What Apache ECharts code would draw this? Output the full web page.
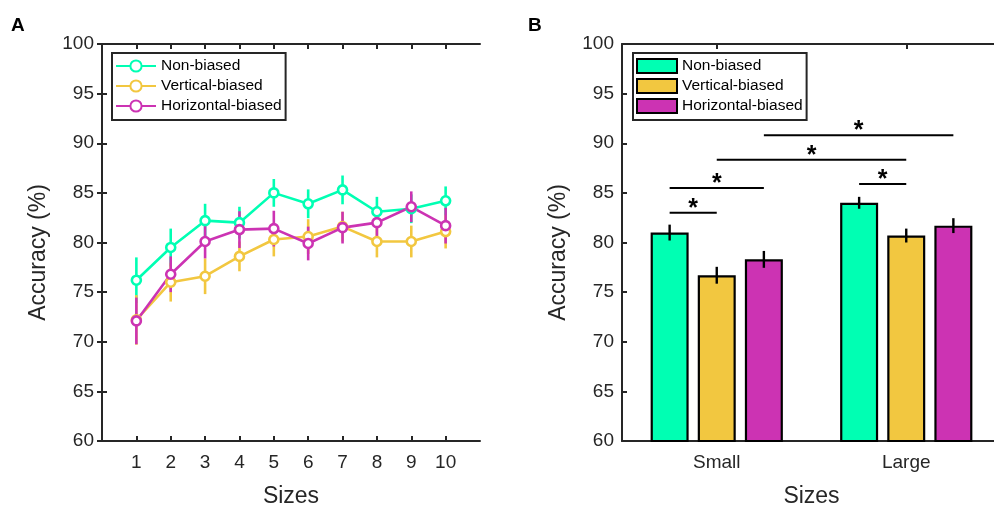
<!DOCTYPE html>
<html>
<head>
<meta charset="utf-8">
<script src="https://cdn.jsdelivr.net/npm/echarts@6/dist/echarts.min.js"></script>
<style>
html,body{margin:0;padding:0;background:#fff;}
#chart{width:994px;height:505px;}
</style>
</head>
<body>
<div id="chart"></div>
<script>
// ---- Panel A data ----
const sizes = [1, 2, 3, 4, 5, 6, 7, 8, 9, 10];
const nonBiased = [76.2, 79.5, 82.2, 82.0, 85.0, 83.9, 85.3, 83.1, 83.4, 84.2];
const nonBiasedErr = [2.3, 1.9, 1.7, 1.6, 1.4, 1.45, 1.45, 1.5, 1.45, 1.45];
const verticalBiased = [72.2, 76.0, 76.6, 78.6, 80.3, 80.6, 81.6, 80.1, 80.1, 81.1];
const verticalErr = [2.5, 1.95, 1.8, 1.5, 1.7, 1.75, 1.5, 1.6, 1.6, 1.7];
const horizontalBiased = [72.1, 76.8, 80.1, 81.3, 81.4, 79.9, 81.5, 82.0, 83.6, 81.7];
const horizontalErr = [2.35, 1.8, 1.7, 1.85, 1.8, 1.7, 1.6, 1.65, 1.55, 1.8];

// ---- Panel B data ----
const sizeCats = ['Small', 'Large'];
const barNon = [81.0, 84.0];
const barNonErr = [0.8, 0.6];
const barVert = [76.7, 80.7];
const barVertErr = [0.85, 0.7];
const barHor = [78.3, 81.7];
const barHorErr = [0.85, 0.75];
// [category A, bar A, category B, bar B, line height]
const comparisons = [
  [0, 0, 0, 1, 83.0],
  [0, 0, 0, 2, 85.5],
  [0, 1, 1, 1, 88.35],
  [0, 2, 1, 2, 90.8],
  [1, 0, 1, 1, 85.9]
];

const seriesNames = ['Non-biased', 'Vertical-biased', 'Horizontal-biased'];

const GREEN = '#00FFB3', YELLOW = '#F2C740', MAGENTA = '#CC33B3';
const AX = '#262626';
const FONT = 'Liberation Sans, Arial, sans-serif';
const BAR_W = 38, BAR_GAP = 0.24;
const BAR_STEP = BAR_W * (1 + BAR_GAP);

const chart = echarts.init(document.getElementById('chart'));

function lineErr(vals, errs, color, name) {
  return {
    type: 'custom', xAxisIndex: 0, yAxisIndex: 0, silent: true,
    name: name + ' err',
    data: sizes.map((s, i) => [s, vals[i], errs[i]]),
    encode: { x: 0, y: 1 },
    renderItem: function (params, api) {
      const x = api.value(0), v = api.value(1), e = api.value(2);
      const p1 = api.coord([x, v - e]), p2 = api.coord([x, v + e]);
      return { type: 'line', shape: { x1: p1[0], y1: p1[1], x2: p2[0], y2: p2[1] },
        style: { stroke: color, lineWidth: 2.6 } };
    }
  };
}
function lineSeries(vals, color, name) {
  return {
    type: 'line', name: name, xAxisIndex: 0, yAxisIndex: 0,
    data: sizes.map((s, i) => [s, vals[i]]),
    symbol: 'circle', symbolSize: 9,
    itemStyle: { color: '#fff', borderColor: color, borderWidth: 2.6 },
    lineStyle: { color: color, width: 2.6 },
    color: color,
    animation: false
  };
}
function barErr(vals, errs, idx) {
  return {
    type: 'custom', xAxisIndex: 2, yAxisIndex: 2, silent: true, z: 5,
    data: sizeCats.map((c, i) => [i, vals[i], errs[i]]),
    encode: { x: 0, y: 1 },
    renderItem: function (params, api) {
      const x = api.value(0), v = api.value(1), e = api.value(2);
      const p1 = api.coord([x, v - e]), p2 = api.coord([x, v + e]);
      const off = (idx - 1) * BAR_STEP;
      return { type: 'line', shape: { x1: p1[0] + off, y1: p1[1], x2: p2[0] + off, y2: p2[1] },
        style: { stroke: '#000', lineWidth: 2.4 } };
    }
  };
}
function barSeries(vals, color, name) {
  return {
    type: 'bar', name: name + ' (B)', xAxisIndex: 2, yAxisIndex: 2,
    data: vals, barWidth: BAR_W, barGap: (BAR_GAP * 100) + '%',
    itemStyle: { color: color, borderColor: '#000', borderWidth: 2.2 },
    animation: false
  };
}

const axisCommon = {
  axisLine: { show: true, lineStyle: { color: AX, width: 2 } },
  axisTick: { show: true, inside: true, length: 5, lineStyle: { color: AX, width: 2 } },
  splitLine: { show: false }
};
const labelStyle = { color: AX, fontSize: 19, fontFamily: FONT };
const nameStyle = { color: AX, fontSize: 23, fontFamily: FONT };

function yAxisMain(grid) {
  return Object.assign({}, axisCommon, {
    type: 'value', gridIndex: grid, min: 60, max: 100, interval: 5, position: 'left',
    name: 'Accuracy (%)', nameLocation: 'middle', nameGap: 52,
    nameTextStyle: Object.assign({}, nameStyle, { padding: [0, 20, 0, 0] }),
    axisLabel: Object.assign({}, labelStyle, { margin: 8 })
  });
}
function yAxisRight(grid) {
  return Object.assign({}, axisCommon, {
    type: 'value', gridIndex: grid, min: 60, max: 100, interval: 5, position: 'right',
    axisLabel: { show: false }
  });
}

const option = {
  backgroundColor: '#fff',
  animation: false,
  title: [
    { text: 'A', left: 11, top: 16, padding: 0, textStyle: { fontSize: 19, fontWeight: 'bold', color: '#000', fontFamily: FONT } },
    { text: 'B', left: 528, top: 16, padding: 0, textStyle: { fontSize: 19, fontWeight: 'bold', color: '#000', fontFamily: FONT } }
  ],
  grid: [
    { left: 102, top: 44, width: 378, height: 397, containLabel: false, outerBoundsMode: 'none' },
    { left: 622, top: 44, width: 379, height: 397, containLabel: false, outerBoundsMode: 'none' }
  ],
  legend: [
    {
      data: seriesNames, left: 112, top: 53, orient: 'vertical',
      itemWidth: 40, itemHeight: 14, itemGap: 4,
      padding: [5, 4, 6, 3], borderColor: AX, borderWidth: 2, backgroundColor: '#fff',
      textStyle: { color: '#000', fontSize: 15.5, fontFamily: FONT },
      selectedMode: false
    },
    {
      data: seriesNames.map(n => n + ' (B)'), left: 633, top: 53, orient: 'vertical',
      itemWidth: 40, itemHeight: 14, itemGap: 4, icon: 'rect',
      padding: [5, 4, 6, 3], borderColor: AX, borderWidth: 2, backgroundColor: '#fff',
      formatter: function (n) { return n.replace(' (B)', ''); },
      textStyle: { color: '#000', fontSize: 15.5, fontFamily: FONT },
      itemStyle: { borderColor: '#000', borderWidth: 2 },
      selectedMode: false
    }
  ],
  xAxis: [
    Object.assign({}, axisCommon, {
      type: 'value', gridIndex: 0, min: 0, max: 11, interval: 1, position: 'bottom',
      name: 'Sizes', nameLocation: 'middle', nameGap: 44, nameTextStyle: nameStyle,
      axisTick: Object.assign({}, axisCommon.axisTick, { customValues: sizes }),
      axisLabel: Object.assign({}, labelStyle, { margin: 12, customValues: sizes })
    }),
    Object.assign({}, axisCommon, {
      type: 'value', gridIndex: 0, min: 0, max: 11, interval: 1, position: 'top',
      axisTick: Object.assign({}, axisCommon.axisTick, { customValues: sizes }),
      axisLabel: { show: false }
    }),
    Object.assign({}, axisCommon, {
      type: 'category', gridIndex: 1, data: sizeCats, position: 'bottom',
      name: 'Sizes', nameLocation: 'middle', nameGap: 44, nameTextStyle: nameStyle,
      axisTick: Object.assign({}, axisCommon.axisTick, { alignWithLabel: true }),
      axisLabel: Object.assign({}, labelStyle, { margin: 12 })
    }),
    Object.assign({}, axisCommon, {
      type: 'category', gridIndex: 1, data: sizeCats, position: 'top',
      axisTick: Object.assign({}, axisCommon.axisTick, { alignWithLabel: true }),
      axisLabel: { show: false }
    })
  ],
  yAxis: [
    yAxisMain(0), yAxisRight(0), yAxisMain(1), yAxisRight(1)
  ],
  series: [
    lineErr(nonBiased, nonBiasedErr, GREEN, seriesNames[0]),
    lineSeries(nonBiased, GREEN, seriesNames[0]),
    lineErr(verticalBiased, verticalErr, YELLOW, seriesNames[1]),
    lineSeries(verticalBiased, YELLOW, seriesNames[1]),
    lineErr(horizontalBiased, horizontalErr, MAGENTA, seriesNames[2]),
    lineSeries(horizontalBiased, MAGENTA, seriesNames[2]),
    barSeries(barNon, GREEN, seriesNames[0]),
    barSeries(barVert, YELLOW, seriesNames[1]),
    barSeries(barHor, MAGENTA, seriesNames[2]),
    barErr(barNon, barNonErr, 0),
    barErr(barVert, barVertErr, 1),
    barErr(barHor, barHorErr, 2),
    {
      type: 'custom', xAxisIndex: 2, yAxisIndex: 2, silent: true, z: 6,
      data: comparisons,
      encode: { x: 0, y: 4 },
      renderItem: function (params, api) {
        const c1 = api.value(0), b1 = api.value(1), c2 = api.value(2), b2 = api.value(3), y = api.value(4);
        const p1 = api.coord([c1, y]), p2 = api.coord([c2, y]);
        const x1 = p1[0] + (b1 - 1) * BAR_STEP, x2 = p2[0] + (b2 - 1) * BAR_STEP;
        return {
          type: 'group',
          children: [
            { type: 'line', shape: { x1: x1, y1: p1[1], x2: x2, y2: p1[1] }, style: { stroke: '#000', lineWidth: 2 } },
            { type: 'text', style: { text: '*', x: (x1 + x2) / 2, y: p1[1] - 4, align: 'center', verticalAlign: 'middle',
              fontSize: 25, fontWeight: 'bold', fill: '#000', fontFamily: FONT } }
          ]
        };
      }
    }
  ]
};
chart.setOption(option);
</script>
</body>
</html>
